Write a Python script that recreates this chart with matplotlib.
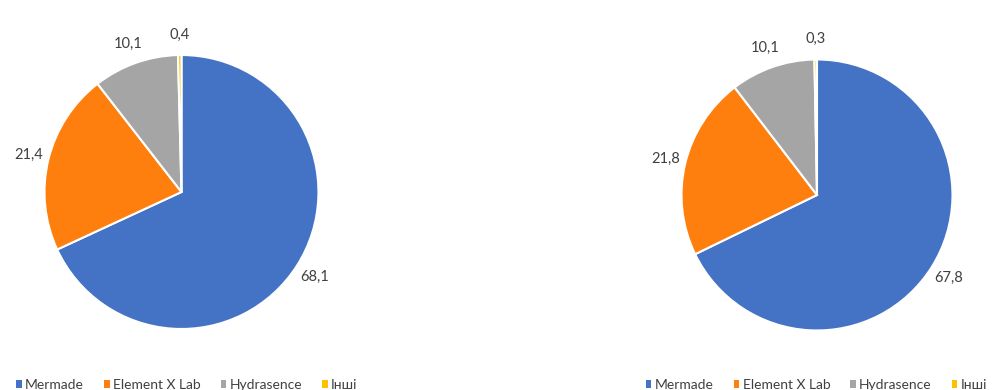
import matplotlib.pyplot as plt
from matplotlib.patches import Patch

# Частки (%) для двох діаграм
names = ['Mermade', 'Element X Lab', 'Hydrasence', 'Інші']
left_vals = [68.1, 21.4, 10.1, 0.4]
right_vals = [67.8, 21.8, 10.1, 0.3]
colors = ['#4472C4', '#FF7F0E', '#A5A5A5', '#FFC000']

plt.rcParams['font.family'] = ['Lato', 'DejaVu Sans']
txt_color = '#404040'

fig = plt.figure(figsize=(9.93, 3.9), dpi=100)


def draw_pie(rect, vals):
    ax = fig.add_axes(rect)
    ax.pie(vals, colors=colors, startangle=90, counterclock=False,
           wedgeprops=dict(edgecolor='white', linewidth=1.5),
           autopct=lambda p: ('%.1f' % p).replace('.', ','),
           pctdistance=1.15,
           textprops=dict(fontsize=10.5, color=txt_color))
    ax.set_xlim(-1, 1)
    ax.set_ylim(-1, 1)
    ax.set_aspect('equal')
    ax.axis('off')
    return ax


draw_pie([0.0448, 0.1564, 0.2759, 0.7026], left_vals)
draw_pie([0.6863, 0.1526, 0.2729, 0.6949], right_vals)

handles = [Patch(facecolor=c, edgecolor='none') for c in colors]
for x0 in (0.004, 0.638):
    fig.legend(handles, names, loc='lower left', bbox_to_anchor=(x0, -0.034),
               ncol=4, frameon=False, fontsize=10, labelcolor=txt_color,
               handlelength=0.38, handleheight=0.45, handletextpad=0.25,
               columnspacing=1.45)

fig.savefig('out.png', dpi=100)
